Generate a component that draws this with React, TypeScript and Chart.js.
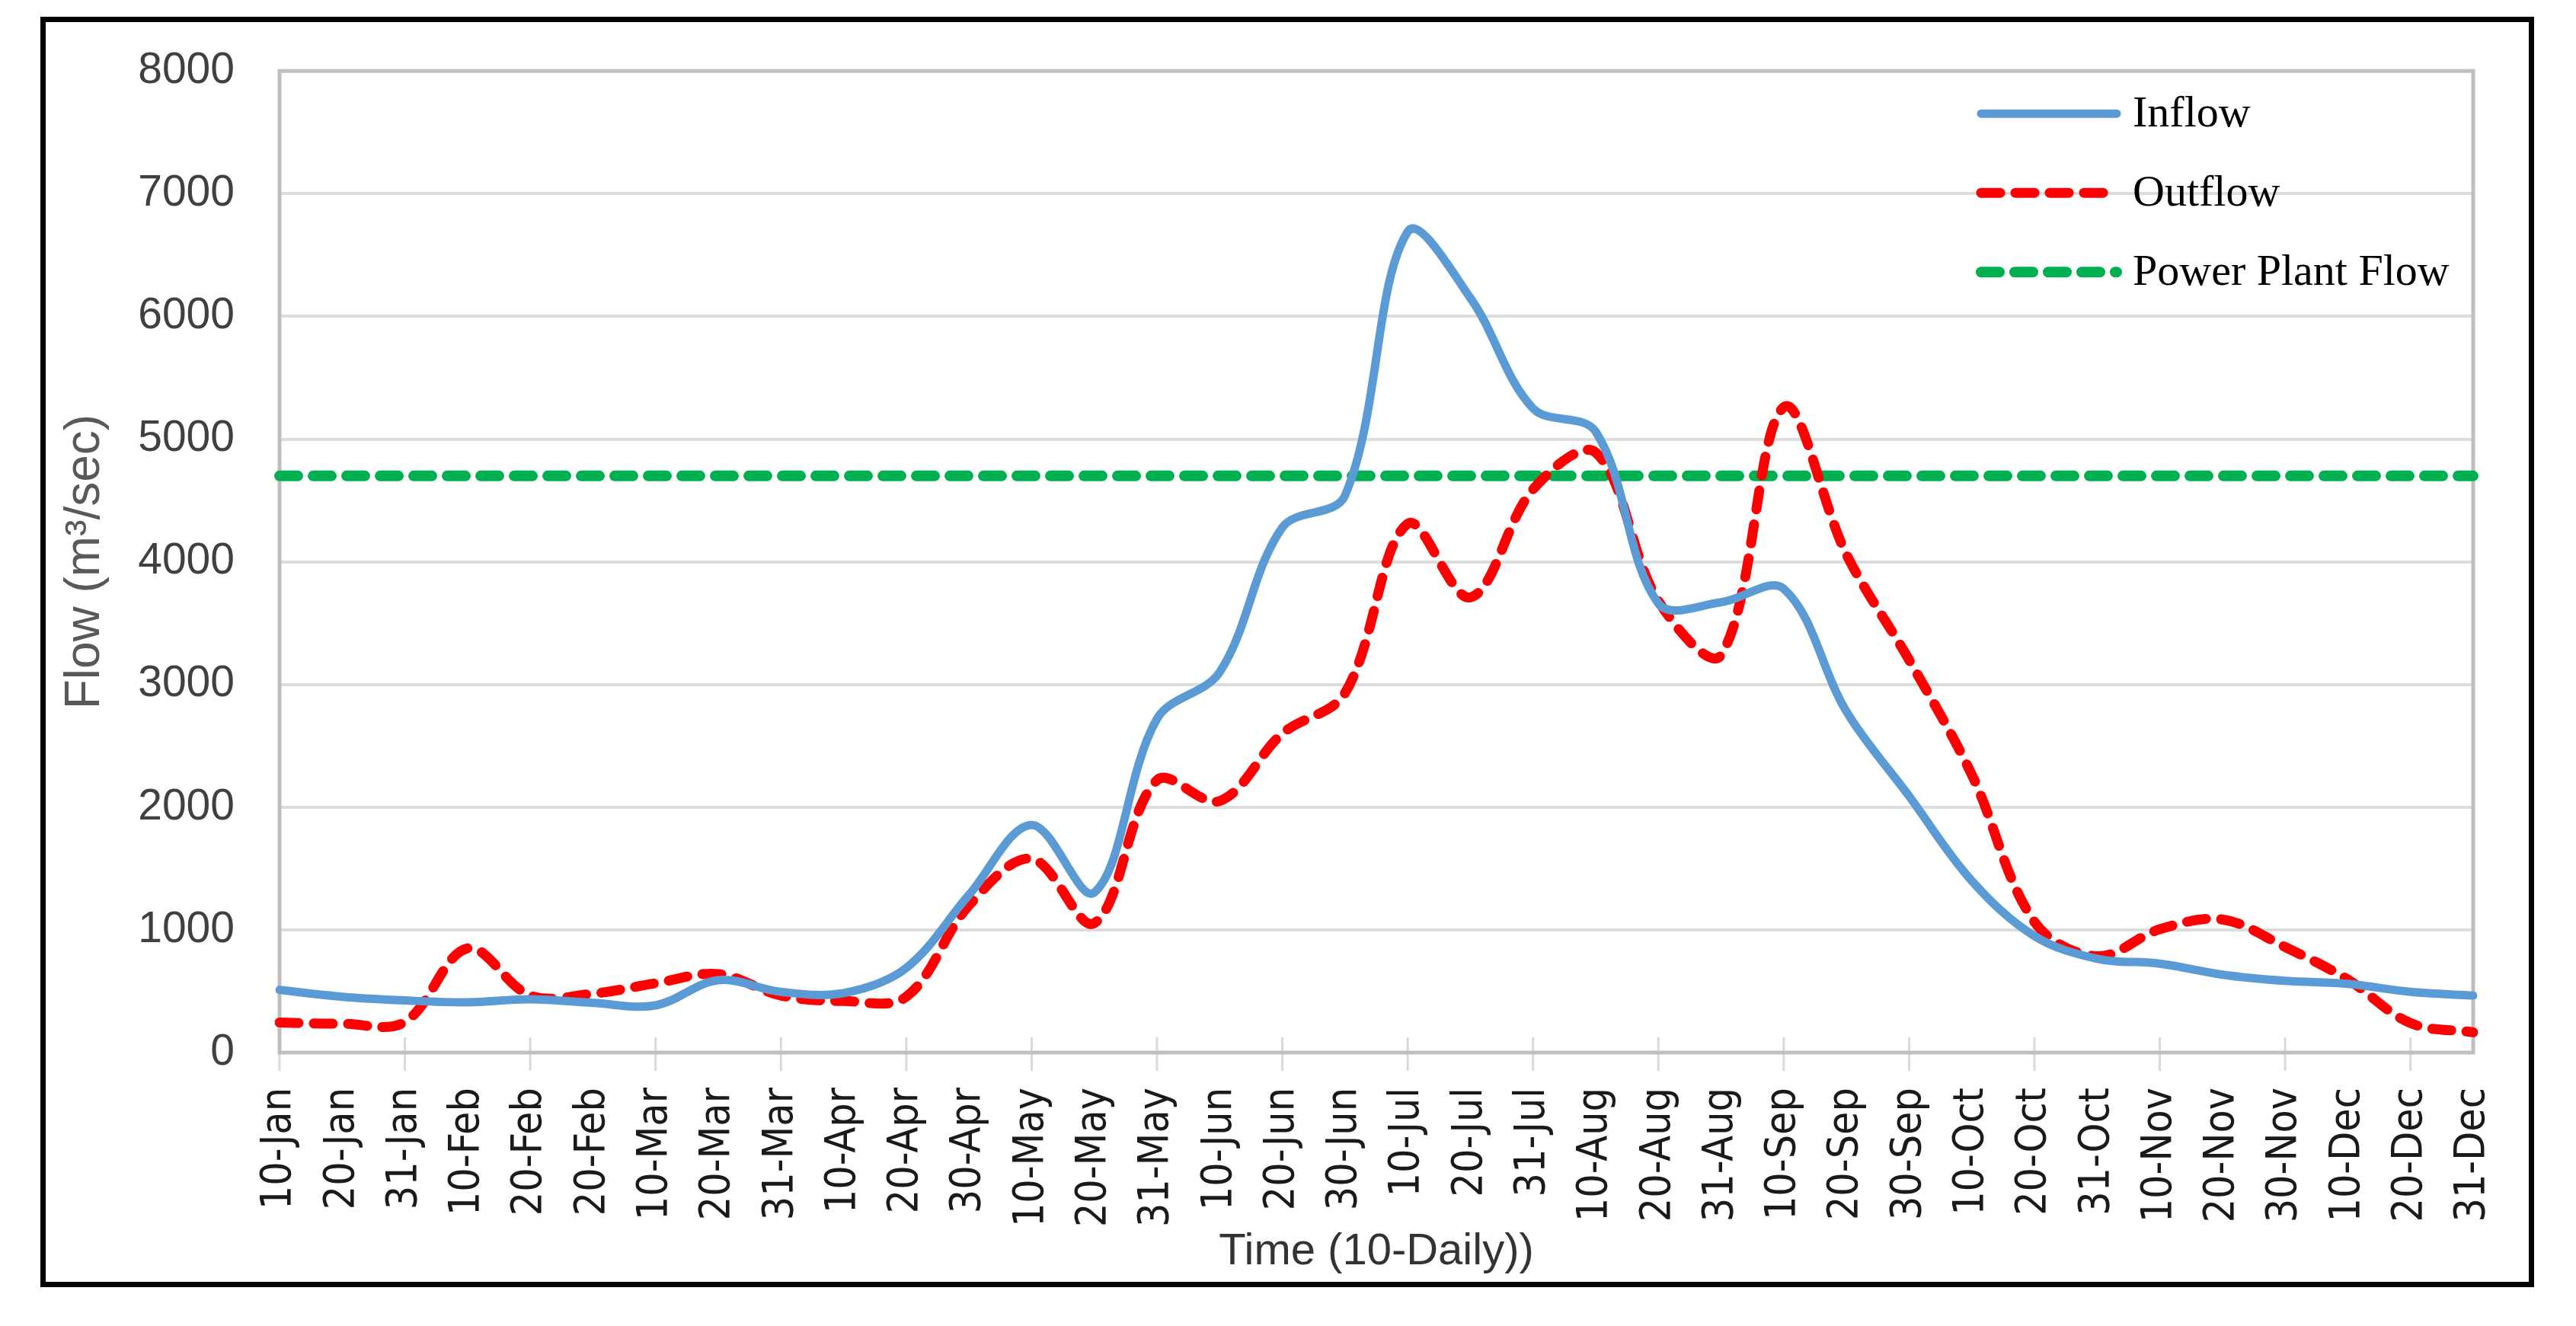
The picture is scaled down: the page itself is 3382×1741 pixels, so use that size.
import React, { useEffect, useRef } from "react";
import { Chart, registerables } from "chart.js";

Chart.register(...registerables);

const categories = [
  "10-Jan", "20-Jan", "31-Jan", "10-Feb", "20-Feb", "20-Feb", "10-Mar", "20-Mar", "31-Mar",
  "10-Apr", "20-Apr", "30-Apr", "10-May", "20-May", "31-May", "10-Jun", "20-Jun", "30-Jun",
  "10-Jul", "20-Jul", "31-Jul", "10-Aug", "20-Aug", "31-Aug", "10-Sep", "20-Sep", "30-Sep",
  "10-Oct", "20-Oct", "31-Oct", "10-Nov", "20-Nov", "30-Nov", "10-Dec", "20-Dec", "31-Dec",
];

const inflow = [
  510, 455, 425, 410, 435, 405, 385, 590, 495,
  485, 690, 1285, 1855, 1305, 2720, 3100, 4280, 4540,
  6690, 6150, 5250, 5060, 3660, 3670, 3780, 2780, 2090,
  1400, 950, 765, 725, 635, 585, 560, 495, 465,
];

const outflow = [
  245, 235, 250, 850, 465, 480, 565, 640, 465,
  420, 455, 1200, 1580, 1055, 2220, 2050, 2600, 2930,
  4310, 3710, 4590, 4890, 3680, 3240, 5260, 4060, 3200,
  2265, 1065, 785, 1005, 1085, 860, 595, 240, 165,
];

const powerPlantFlow = [
  4700, 4700, 4700, 4700, 4700, 4700, 4700, 4700, 4700,
  4700, 4700, 4700, 4700, 4700, 4700, 4700, 4700, 4700,
  4700, 4700, 4700, 4700, 4700, 4700, 4700, 4700, 4700,
  4700, 4700, 4700, 4700, 4700, 4700, 4700, 4700, 4700,
];

const seriesNames = ["Inflow", "Outflow", "Power Plant Flow"];
const yMin = 0;
const yMax = 8000;
const yStep = 1000;
const yTitle = "Flow (m³/sec)";
const xTitle = "Time (10-Daily))";

const plotDecor = {
  id: "plotDecor",
  beforeDatasetsDraw(chart: any) {
    const { ctx, chartArea: a, scales } = chart;
    const xs = scales.x;
    ctx.save();
    ctx.strokeStyle = "#d9d9d9";
    ctx.lineWidth = 3;
    for (let i = 0; i < categories.length; i += 2) {
      const px = xs.getPixelForValue(i);
      ctx.beginPath();
      ctx.moveTo(px, a.bottom - 20);
      ctx.lineTo(px, a.bottom + 24);
      ctx.stroke();
    }
    ctx.strokeStyle = "#bfbfbf";
    ctx.lineWidth = 5;
    ctx.strokeRect(a.left, a.top, a.right - a.left, a.bottom - a.top);
    ctx.restore();
  },
};

const innerLegend = {
  id: "innerLegend",
  afterDraw(chart: any) {
    const { ctx, chartArea: a } = chart;
    const x0 = a.right - 646;
    const x1 = a.right - 468;
    const tx = a.right - 447;
    ctx.save();
    chart.data.datasets.forEach((ds: any, i: number) => {
      const y = a.top + 56 + i * 104;
      ctx.beginPath();
      ctx.strokeStyle = ds.borderColor;
      ctx.lineWidth = ds.borderWidth;
      ctx.lineCap = "round";
      ctx.setLineDash(ds.borderDash || []);
      ctx.moveTo(x0, y);
      ctx.lineTo(x1, y);
      ctx.stroke();
      ctx.setLineDash([]);
      ctx.fillStyle = "#000000";
      ctx.font = '58px "Liberation Serif", "Times New Roman", serif';
      ctx.textAlign = "left";
      ctx.textBaseline = "middle";
      ctx.fillText(ds.label, tx, y + 2);
    });
    ctx.restore();
  },
};

export default function App() {
  const canvasRef = useRef<HTMLCanvasElement | null>(null);

  useEffect(() => {
    if (!canvasRef.current) return;
    const chart = new Chart(canvasRef.current, {
      type: "line",
      data: {
        labels: categories,
        datasets: [
          {
            label: seriesNames[0],
            data: inflow,
            borderColor: "#5b9bd5",
            borderWidth: 11,
            pointRadius: 0,
            tension: 0.35,
            fill: false,
            borderCapStyle: "round",
            borderJoinStyle: "round",
          },
          {
            label: seriesNames[1],
            data: outflow,
            borderColor: "#ff0000",
            borderWidth: 13,
            borderDash: [25, 20],
            borderCapStyle: "round",
            borderJoinStyle: "round",
            pointRadius: 0,
            tension: 0.35,
            fill: false,
          },
          {
            label: seriesNames[2],
            data: powerPlantFlow,
            borderColor: "#00b050",
            borderWidth: 14,
            borderDash: [24, 20],
            borderCapStyle: "round",
            pointRadius: 0,
            tension: 0,
            fill: false,
          },
        ],
      },
      options: {
        animation: false,
        responsive: false,
        maintainAspectRatio: false,
        layout: { padding: { left: 0, top: 91, right: 135, bottom: 0 } },
        plugins: {
          legend: { display: false },
          tooltip: { enabled: false },
        },
        scales: {
          x: {
            type: "category",
            offset: false,
            grid: {
              display: true,
              drawOnChartArea: false,
              drawTicks: true,
              tickLength: 24,
              tickColor: "transparent",
            },
            border: { display: false },
            ticks: {
              autoSkip: false,
              minRotation: 90,
              maxRotation: 90,
              padding: 22,
              color: "#1a1a1a",
              font: { family: '"DejaVu Sans Condensed", "DejaVu Sans", sans-serif', size: 55 },
            },
            title: {
              display: true,
              text: xTitle,
              color: "#333333",
              font: { family: '"Liberation Sans", Arial, sans-serif', size: 58 },
              padding: { top: 0, bottom: 62 },
            },
            afterFit: (s: any) => {
              s.height = 359;
            },
          },
          y: {
            min: yMin,
            max: yMax,
            ticks: {
              stepSize: yStep,
              padding: 59,
              color: "#404040",
              font: { family: '"Liberation Sans", Arial, sans-serif', size: 57 },
              callback: (v: any) => String(v),
            },
            grid: { color: "#dcdcdc", lineWidth: 4, drawTicks: false },
            border: { display: false },
            title: {
              display: true,
              text: yTitle,
              color: "#595959",
              font: { family: '"Liberation Sans", Arial, sans-serif', size: 64 },
              padding: { top: 74, bottom: 0 },
            },
            afterFit: (s: any) => {
              s.width = 367;
            },
          },
        },
      },
      plugins: [plotDecor, innerLegend],
    });
    return () => chart.destroy();
  }, []);

  return (
    <div style={{ position: "fixed", left: 0, top: 0, width: 3382, height: 1741, background: "#ffffff" }}>
      <canvas ref={canvasRef} width={3382} height={1741} style={{ display: "block" }} />
      <div
        style={{
          position: "absolute",
          left: 53,
          top: 22,
          width: 3274,
          height: 1668,
          boxSizing: "border-box",
          border: "7px solid #000000",
          pointerEvents: "none",
        }}
      />
    </div>
  );
}
